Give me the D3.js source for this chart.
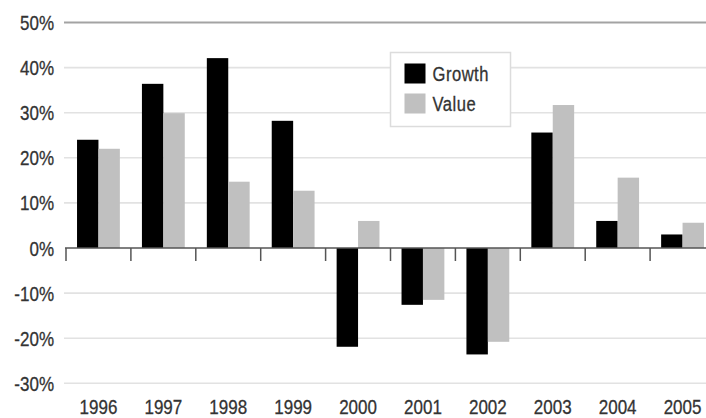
<!DOCTYPE html>
<html>
<head>
<meta charset="utf-8">
<script src="https://cdn.jsdelivr.net/npm/d3@7"></script>
<style>
  html, body { margin: 0; padding: 0; background: #fff; }
  svg { display: block; }
  text { font-family: "Liberation Sans", Arial, sans-serif; fill: #333; stroke: #333; stroke-width: 0.3; }
</style>
</head>
<body>
<svg id="chart" width="706" height="418"></svg>
<script>
// Annual returns by style, in percent
const years = ["1996", "1997", "1998", "1999", "2000", "2001", "2002", "2003", "2004", "2005"];
const growth = [24, 36.4, 42.1, 28.2, -21.9, -12.6, -23.6, 25.6, 6, 3];
const value = [22, 29.9, 14.7, 12.7, 6, -11.5, -20.8, 31.7, 15.6, 5.6];
const seriesNames = ["Growth", "Value"];
const seriesColors = ["#000000", "#c0c0c0"];
const yTicks = [-30, -20, -10, 0, 10, 20, 30, 40, 50];

// condensed lettering: squeeze glyphs horizontally around the anchor point
const condensed = 0.85;
const place = (x, y) => `translate(${x},${y}) scale(${condensed},1)`;

const svg = d3.select("#chart");

const padOuter = 0.17;
const x0 = d3.scaleBand().domain(years).range([66, 715])
  .paddingInner(0.34).paddingOuter(padOuter);
const x1 = d3.scaleBand().domain(seriesNames).range([0, x0.bandwidth()]);
const y = d3.scaleLinear().domain([-30, 50]).range([383.3, 22.5]);

// Horizontal gridlines
svg.append("g").selectAll("line").data(yTicks.filter(t => t !== 0)).join("line")
  .attr("x1", 64).attr("x2", 706)
  .attr("y1", d => y(d)).attr("y2", d => y(d))
  .attr("stroke", d => d === 50 ? "#a3a3a3" : "#e2e2e2")
  .attr("stroke-width", d => d === 50 ? 2.2 : 1.6);

// Y-axis labels
svg.append("g").selectAll("text").data(yTicks).join("text")
  .attr("transform", d => place(54, y(d) + 7.5))
  .attr("text-anchor", "end")
  .attr("font-size", 20)
  .text(d => d + "%");

// Bars
const rows = years.map((yr, i) => ({ year: yr, vals: [growth[i], value[i]] }));
const groups = svg.append("g").selectAll("g").data(rows).join("g")
  .attr("transform", d => `translate(${x0(d.year)},0)`);
groups.selectAll("rect").data(d => d.vals.map((v, j) => ({ v, j }))).join("rect")
  .attr("x", d => x1(seriesNames[d.j]))
  .attr("width", x1.bandwidth())
  .attr("y", d => y(Math.max(0, d.v)))
  .attr("height", d => Math.abs(y(d.v) - y(0)))
  .attr("fill", d => seriesColors[d.j]);

// Zero baseline with category separators
svg.append("line")
  .attr("x1", 65).attr("x2", 706)
  .attr("y1", y(0)).attr("y2", y(0))
  .attr("stroke", "#555").attr("stroke-width", 1.5);
const bounds = years.map(yr => x0(yr) - padOuter * x0.step()).concat([x0.range()[1]]);
svg.append("g").selectAll("line").data(bounds).join("line")
  .attr("x1", d => d).attr("x2", d => d)
  .attr("y1", y(0)).attr("y2", y(0) + 13)
  .attr("stroke", "#555").attr("stroke-width", 1.5);

// Year labels
svg.append("g").selectAll("text").data(years).join("text")
  .attr("transform", d => place(x0(d) + x0.bandwidth() / 2, 413.5))
  .attr("text-anchor", "middle")
  .attr("font-size", 20)
  .text(d => d);

// Legend
const legend = svg.append("g").attr("transform", "translate(390.5,52.5)");
legend.append("rect").attr("width", 120).attr("height", 74)
  .attr("fill", "#fff").attr("stroke", "#dcdcdc").attr("stroke-width", 1.5);
const items = legend.selectAll("g.item").data(seriesNames).join("g")
  .attr("class", "item")
  .attr("transform", (d, i) => `translate(14,${11 + i * 30})`);
items.append("rect").attr("width", 21).attr("height", 20)
  .attr("fill", (d, i) => seriesColors[i]);
items.append("text").attr("transform", place(28, 17.5))
  .attr("font-size", 19.5).attr("letter-spacing", 0.6)
  .text(d => d);
</script>
</body>
</html>
